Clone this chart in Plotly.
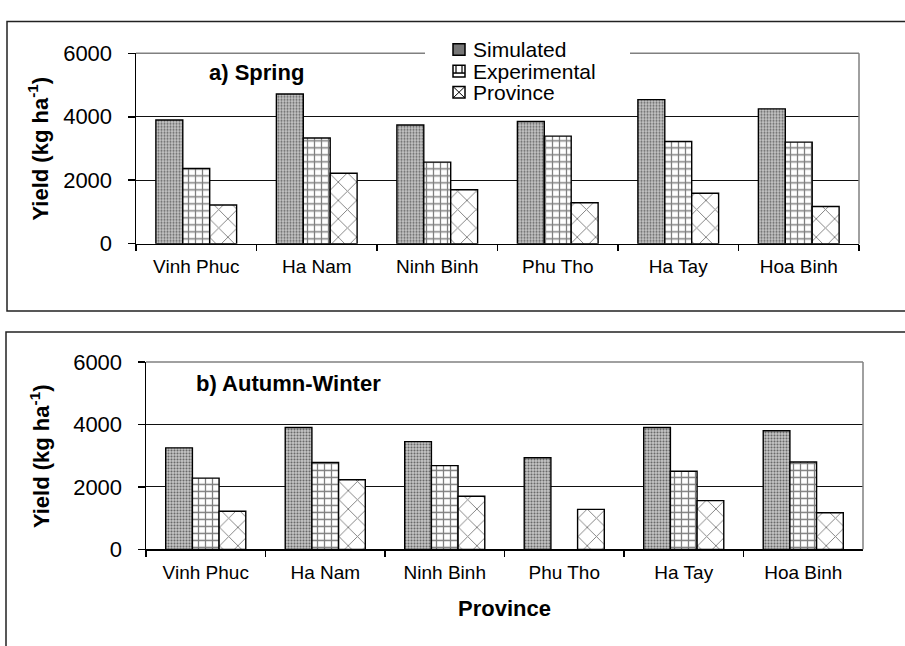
import plotly.graph_objects as go

W, H = 905, 646

provinces = ["Vinh Phuc", "Ha Nam", "Ninh Binh", "Phu Tho", "Ha Tay", "Hoa Binh"]

spring_simulated = [3900, 4720, 3740, 3850, 4540, 4250]
spring_experimental = [2370, 3330, 2570, 3390, 3220, 3200]
spring_province = [1220, 2220, 1700, 1290, 1590, 1170]

autumn_simulated = [3250, 3900, 3450, 2930, 3900, 3795]
autumn_experimental = [2280, 2780, 2680, None, 2500, 2795]
autumn_province = [1220, 2230, 1700, 1280, 1560, 1170]

series_names = ["Simulated", "Experimental", "Province"]
y_ticks = [0, 2000, 4000, 6000]

patterns = [
    dict(shape=".", bgcolor="#c8c8c8", fgcolor="#000000", size=3, solidity=0.4),
    dict(shape="+", bgcolor="#ffffff", fgcolor="#000000", size=7, solidity=0.33),
    dict(shape="x", bgcolor="#ffffff", fgcolor="#000000", size=13, solidity=0.14),
]

fig = go.Figure()

top_data = [spring_simulated, spring_experimental, spring_province]
bot_data = [autumn_simulated, autumn_experimental, autumn_province]

for i, name in enumerate(series_names):
    fig.add_trace(go.Bar(
        x=provinces, y=top_data[i], name=name, xaxis="x", yaxis="y",
        marker=dict(color="#ffffff", line=dict(color="#000000", width=1.4),
                    pattern=patterns[i]),
        showlegend=False,
    ))
for i, name in enumerate(series_names):
    fig.add_trace(go.Bar(
        x=provinces, y=bot_data[i], name=name, xaxis="x2", yaxis="y2",
        marker=dict(color="#ffffff", line=dict(color="#000000", width=1.4),
                    pattern=patterns[i]),
        showlegend=False,
    ))

def px_x(v):
    return v / W

def px_y(v):
    return 1 - v / H

FAM = "Liberation Sans, Arial, sans-serif"
tick_font = dict(family=FAM, size=19, color="#000")
ytick_font = dict(family=FAM, size=22, color="#000")
bold_font = dict(family=FAM, size=22, color="#000")
legend_font = dict(family=FAM, size=21, color="#000")

xcommon = dict(
    type="category", showline=True, linecolor="#000", linewidth=1.5,
    ticks="outside", tickson="boundaries", ticklen=6, tickcolor="#000", tickwidth=1.5,
    tickfont=tick_font, showgrid=False, ticklabelstandoff=5, fixedrange=True,
)
ycommon = dict(
    range=[0, 6000], tickvals=y_ticks, showline=True, linecolor="#000", linewidth=1.5,
    ticks="outside", ticklen=7, tickcolor="#000", tickwidth=1.5,
    tickfont=ytick_font, showgrid=True, gridcolor="#111", gridwidth=1.2,
    zeroline=False, ticklabelstandoff=11, fixedrange=True,
)

fig.update_layout(
    width=W, height=H,
    margin=dict(l=0, r=0, t=0, b=0),
    paper_bgcolor="#ffffff", plot_bgcolor="#ffffff",
    barmode="group", bargap=0.33, bargroupgap=0,
    xaxis=dict(domain=[px_x(136), px_x(859)], anchor="y", **xcommon),
    yaxis=dict(domain=[px_y(241), px_y(43)], anchor="x", **ycommon),
    xaxis2=dict(domain=[px_x(146), px_x(863)], anchor="y2", **xcommon),
    yaxis2=dict(domain=[px_y(559), px_y(364)], anchor="x2", **ycommon),
    showlegend=False,
)

shapes = []
# outer panel boxes
shapes.append(dict(type="rect", xref="paper", yref="paper",
                   x0=px_x(7), x1=1.05, y0=px_y(311), y1=px_y(10),
                   line=dict(color="#222", width=1.5), layer="below"))
shapes.append(dict(type="rect", xref="paper", yref="paper",
                   x0=px_x(6), x1=1.05, y0=-0.05, y1=px_y(333),
                   line=dict(color="#222", width=1.5), layer="below"))
# gray plot-area frame (top and right)
for xa, ya in (("x", "y"), ("x2", "y2")):
    shapes.append(dict(type="line", xref=f"{xa} domain", yref=f"{ya} domain",
                       x0=0, x1=1, y0=1, y1=1, line=dict(color="#808080", width=1.5)))
    shapes.append(dict(type="line", xref=f"{xa} domain", yref=f"{ya} domain",
                       x0=1, x1=1, y0=0, y1=1, line=dict(color="#808080", width=1.5)))

# legend box (white background) and swatches
shapes.append(dict(type="rect", xref="paper", yref="paper",
                   x0=px_x(425), x1=px_x(630), y0=px_y(95), y1=px_y(27),
                   fillcolor="#ffffff", line=dict(width=0)))
legend_rows = [39, 61.5, 83.5]
sw_x0, sw_x1 = 453, 465
for i, cy in enumerate(legend_rows):
    y0, y1 = px_y(cy + 6), px_y(cy - 6)
    fill = "#777777" if i == 0 else "#ffffff"
    shapes.append(dict(type="rect", xref="paper", yref="paper",
                       x0=px_x(sw_x0), x1=px_x(sw_x1), y0=y0, y1=y1,
                       fillcolor=fill, line=dict(color="#000", width=1.5)))
    if i == 1:
        shapes.append(dict(type="line", xref="paper", yref="paper",
                           x0=px_x(sw_x0), x1=px_x(sw_x1), y0=px_y(cy + 2), y1=px_y(cy + 2),
                           line=dict(color="#000", width=1.5)))
        for xv in (sw_x0 + 3, sw_x1 - 3):
            shapes.append(dict(type="line", xref="paper", yref="paper",
                               x0=px_x(xv), x1=px_x(xv), y0=px_y(cy + 2), y1=px_y(cy - 6),
                               line=dict(color="#000", width=1.2)))
    if i == 2:
        shapes.append(dict(type="line", xref="paper", yref="paper",
                           x0=px_x(sw_x0), x1=px_x(sw_x1), y0=y0, y1=y1,
                           line=dict(color="#000", width=1)))
        shapes.append(dict(type="line", xref="paper", yref="paper",
                           x0=px_x(sw_x0), x1=px_x(sw_x1), y0=y1, y1=y0,
                           line=dict(color="#000", width=1)))
fig.update_layout(shapes=shapes)

annotations = [
    dict(text="<b>Yield (kg ha<sup>-1</sup>)</b>", textangle=-90, xref="paper", yref="paper",
         x=px_x(38), y=px_y(142), showarrow=False, font=bold_font,
         xanchor="center", yanchor="middle"),
    dict(text="<b>Yield (kg ha<sup>-1</sup>)</b>", textangle=-90, xref="paper", yref="paper",
         x=px_x(40), y=px_y(462), showarrow=False, font=bold_font,
         xanchor="center", yanchor="middle"),
    dict(text="<b>a) Spring</b>", xref="paper", yref="paper",
         x=px_x(207), y=px_y(63), showarrow=False, font=bold_font,
         xanchor="left", yanchor="middle"),
    dict(text="<b>b) Autumn-Winter</b>", xref="paper", yref="paper",
         x=px_x(194), y=px_y(386), showarrow=False, font=bold_font,
         xanchor="left", yanchor="middle"),
    dict(text="<b>Province</b>", xref="paper", yref="paper",
         x=px_x(504), y=px_y(620), showarrow=False, font=bold_font,
         xanchor="center", yanchor="middle"),
]
for name, cy in zip(series_names, legend_rows):
    annotations.append(dict(text=name, xref="paper", yref="paper",
                            x=px_x(471), y=px_y(cy), showarrow=False, font=legend_font,
                            xanchor="left", yanchor="middle"))
fig.update_layout(annotations=annotations)

fig.write_html(
    "out.html",
    config={"displayModeBar": False, "staticPlot": True},
    post_script=(
        "document.documentElement.style.margin='0';"
        "document.body.style.margin='0';document.body.style.padding='0';"
        "document.documentElement.style.overflow='hidden';"
        "document.body.style.overflow='hidden';"
        "var gd=document.querySelector('.plotly-graph-div');"
        "if(gd){gd.style.position='fixed';gd.style.top='0px';gd.style.left='0px';}"
        "document.body.style.height='646px';"
    ),
)
